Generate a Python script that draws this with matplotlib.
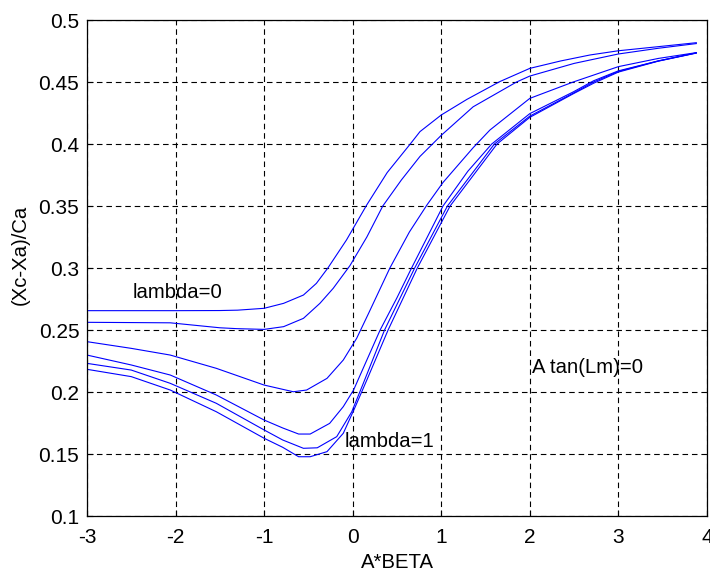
import matplotlib
matplotlib.use('Agg')
import matplotlib.pyplot as plt
from matplotlib.ticker import FormatStrFormatter

plt.rcParams['font.family'] = ['Liberation Sans', 'DejaVu Sans']

# curvas lidas para cada lambda (de cima para baixo)
x1 = [-3, -2, -1.5, -1.3, -1, -0.78, -0.556, -0.41, -0.28, -0.07, 0.16, 0.39, 0.65, 0.76, 1.0, 1.29, 1.66, 2.0, 2.35, 2.68, 3.0, 3.45, 3.88]
y1 = [0.2656, 0.2656, 0.2657, 0.2660, 0.2675, 0.2715, 0.2782, 0.2876, 0.300, 0.3226, 0.351, 0.377, 0.400, 0.410, 0.4234, 0.436, 0.4503, 0.461, 0.467, 0.4718, 0.4752, 0.4785, 0.4817]

x2 = [-3, -2.5, -2.06, -1.5, -1.31, -1, -0.78, -0.556, -0.37, -0.22, -0.03, 0.16, 0.34, 0.55, 0.76, 1.0, 1.36, 1.85, 2.0, 2.5, 3.0, 3.45, 3.88]
y2 = [0.2562, 0.2560, 0.2558, 0.2518, 0.2511, 0.2505, 0.2527, 0.2594, 0.2715, 0.2836, 0.302, 0.325, 0.350, 0.371, 0.390, 0.407, 0.430, 0.450, 0.4548, 0.465, 0.4726, 0.4772, 0.481]

x3 = [-3, -2.5, -2.06, -1.54, -1, -0.67, -0.52, -0.29, -0.106, 0.045, 0.18, 0.42, 0.64, 0.84, 1.02, 1.36, 1.55, 2.0, 2.49, 3.0, 3.45, 3.88]
y3 = [0.2406, 0.2352, 0.2298, 0.2191, 0.2056, 0.2002, 0.2016, 0.2110, 0.2258, 0.2433, 0.2635, 0.300, 0.329, 0.351, 0.369, 0.397, 0.4113, 0.4368, 0.450, 0.4624, 0.469, 0.4737]

x4 = [-3, -2.5, -2.06, -1.54, -1, -0.79, -0.61, -0.48, -0.26, -0.106, 0.01, 0.16, 0.31, 0.5, 0.665, 0.85, 1.02, 1.3, 1.57, 2.0, 2.49, 2.72, 3.0, 3.45, 3.88]
y4 = [0.2298, 0.2218, 0.2137, 0.1976, 0.1774, 0.171, 0.1661, 0.1661, 0.1747, 0.1882, 0.2016, 0.2258, 0.250, 0.276, 0.300, 0.326, 0.350, 0.378, 0.400, 0.4245, 0.442, 0.451, 0.459, 0.467, 0.4735]

x5 = [-3, -2.5, -2.06, -1.54, -1, -0.79, -0.556, -0.40, -0.18, -0.01, 0.12, 0.36, 0.70, 1.07, 1.60, 2.0, 2.49, 2.72, 3.0, 3.45, 3.88]
y5 = [0.2231, 0.2177, 0.207, 0.1909, 0.1694, 0.1613, 0.1546, 0.155, 0.164, 0.1841, 0.207, 0.250, 0.300, 0.350, 0.400, 0.4225, 0.441, 0.450, 0.4585, 0.467, 0.4735]

x6 = [-3, -2.5, -2.06, -1.54, -1, -0.79, -0.61, -0.48, -0.29, -0.106, 0.03, 0.16, 0.40, 0.73, 1.10, 1.63, 2.0, 2.49, 2.72, 3.0, 3.45, 3.88]
y6 = [0.2183, 0.2124, 0.2016, 0.1841, 0.1627, 0.1554, 0.1478, 0.1478, 0.1519, 0.1667, 0.1882, 0.2097, 0.250, 0.300, 0.350, 0.400, 0.4215, 0.4405, 0.449, 0.458, 0.4668, 0.4733]

xticks = [-3, -2, -1, 0, 1, 2, 3, 4]
yticks = [0.1, 0.15, 0.2, 0.25, 0.3, 0.35, 0.4, 0.45, 0.5]

fig = plt.figure(figsize=(7.1, 5.75), dpi=100)
ax = fig.add_axes([0.1225, 0.1026, 0.8732, 0.8626])

for xs, ys in [(x1, y1), (x2, y2), (x3, y3), (x4, y4), (x5, y5), (x6, y6)]:
    ax.plot(xs, ys, color='#0000ff', lw=0.8)

ax.set_xlim(-3, 4)
ax.set_ylim(0.1, 0.5)
ax.set_xticks(xticks)
ax.set_yticks(yticks)
ax.yaxis.set_major_formatter(FormatStrFormatter('%g'))
ax.xaxis.set_major_formatter(FormatStrFormatter('%g'))
ax.grid(True, color='black', linestyle=(0, (5, 3.5)), lw=0.8)
ax.tick_params(direction='in', length=4, labelsize=15, width=0.8)
ax.tick_params(axis='x', pad=8.6)
ax.tick_params(axis='y', pad=5.5)
for s in ax.spines.values():
    s.set_linewidth(0.9)

ax.set_xlabel('A*BETA', fontsize=14.6)
ax.set_ylabel('(Xc-Xa)/Ca', fontsize=14.6)
ax.xaxis.set_label_coords(0.5, -0.0746)
ax.yaxis.set_label_coords(-0.092, 0.526)

ax.text(-2.48, 0.28, 'lambda=0', fontsize=14.6, va='center')
ax.text(-0.09, 0.16, 'lambda=1', fontsize=14.6, va='center')
ax.text(2.02, 0.2194, 'A tan(Lm)=0', fontsize=14.6, va='center')

fig.savefig('out.png', dpi=100)
